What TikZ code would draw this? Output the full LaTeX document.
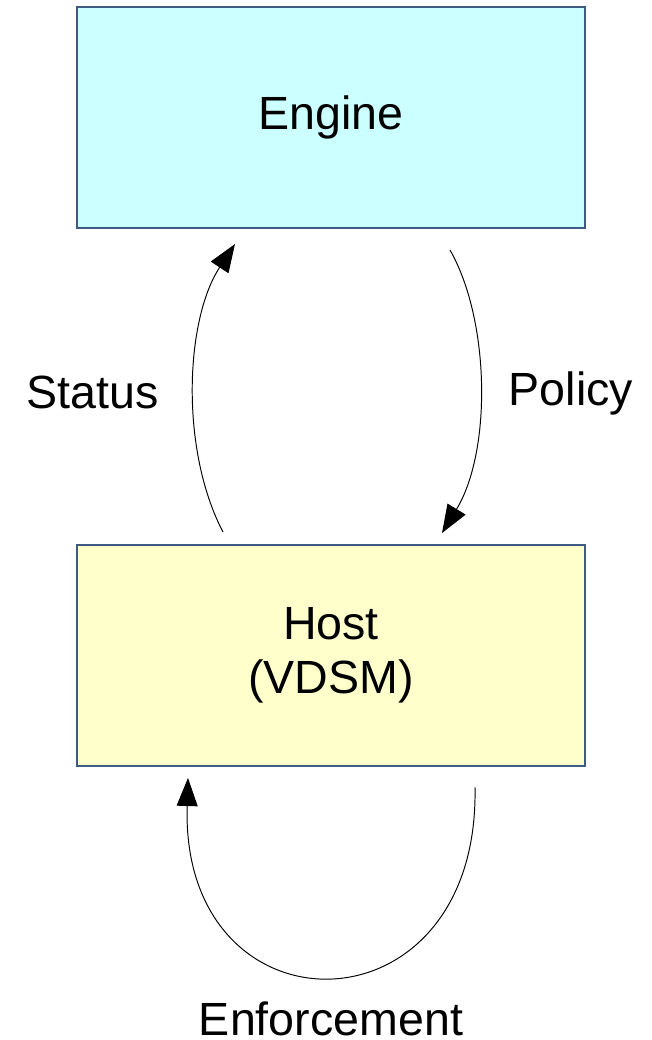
\documentclass[tikz,border=0pt]{standalone}
\usepackage{fontspec}
\setmainfont{Liberation Sans}
\usetikzlibrary{positioning, arrows.meta}

\definecolor{enginefill}{HTML}{CCFFFF}
\definecolor{hostfill}{HTML}{FFFFCC}
\definecolor{boxline}{HTML}{3F5A85}

\tikzset{
  block/.style = {draw=boxline, line width=0.6pt, outer sep=0pt,
                  minimum width=10.16cm, minimum height=4.42cm,
                  align=center, font=\fontsize{26.5}{31}\selectfont},
  lbl/.style   = {anchor=base, inner sep=0pt, font=\fontsize{26.5}{31}\selectfont},
  flow/.style  = {->, line width=0.55pt, black}
}

\begin{document}
\begin{tikzpicture}[>={Triangle[length=0.56cm, width=0.42cm]}, node distance = 6.34cm]
            \useasboundingbox (0,0) rectangle (13.04,-20.8);

            \node[block, fill=enginefill] (engine) at (6.62,-2.35) {Engine};
            \node[block, fill=hostfill] (host) [below = of engine] {Host\\(VDSM)};

            \node[lbl] (status) at (1.85,-8.16) {Status};
            \node[lbl] (policy) at (11.42,-8.1) {Policy};
            \node[lbl] (enforce) at (6.62,-20.7) {Enforcement};

            % host -> engine
            \draw[flow] ([xshift=-2.16cm, yshift=0.26cm]host.north)
              .. controls +(-0.86,1.64) and +(-1.0,-1.52) ..
              ([xshift=-1.92cm, yshift=-0.32cm]engine.south);
            % engine -> host
            \draw[flow] ([xshift=2.38cm, yshift=-0.44cm]engine.south)
              .. controls +(0.8,-1.4) and +(1.0,1.64) ..
              ([xshift=2.22cm, yshift=0.24cm]host.north);
            % host -> host
            \draw[flow] ([xshift=2.88cm, yshift=-0.42cm]host.south)
              .. controls +(0.1,-5.06) and +(-0.16,-5.24) ..
              ([xshift=-2.86cm, yshift=-0.24cm]host.south);
          \end{tikzpicture}
\end{document}
